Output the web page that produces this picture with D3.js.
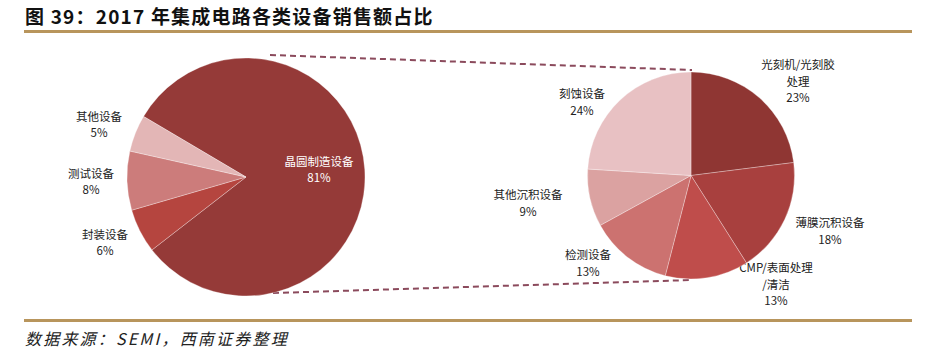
<!DOCTYPE html>
<html><head><meta charset="utf-8">
<script src="https://cdn.jsdelivr.net/npm/d3@7"></script>
<style>body{margin:0;background:#fff}svg{display:block}</style>
</head><body>
<svg id="c" width="937" height="357"></svg>
<script>
const title = "图 39：2017 年集成电路各类设备销售额占比";
const source = "数据来源：SEMI，西南证券整理";

const leftNames = ["晶圆制造设备", "封装设备", "测试设备", "其他设备"];
const leftValues = [81, 6, 8, 5];
const leftColors = ["#953a38", "#b5453f", "#cc7c7b", "#e3b6b6"];

const rightNames = [["光刻机/光刻胶", "处理"], ["薄膜沉积设备"], ["CMP/表面处理", "/清洁"], ["检测设备"], ["其他沉积设备"], ["刻蚀设备"]];
const rightValues = [23, 18, 13, 13, 9, 24];
const rightColors = ["#8f3633", "#a8403e", "#bf4d4b", "#cc7270", "#dba2a1", "#e8c1c3"];

const svg = d3.select("#c");
const font = "'Noto Sans CJK SC','Microsoft YaHei',sans-serif";

// title
svg.append("text").attr("x", 25).attr("y", 24)
  .attr("font-family", font).attr("font-weight", "bold").attr("font-size", 19)
  .attr("letter-spacing", 1.2)
  .attr("fill", "#111").text(title);
svg.append("rect").attr("x", 24).attr("y", 30).attr("width", 888).attr("height", 3).attr("fill", "#b8955c");
svg.append("rect").attr("x", 24).attr("y", 319).attr("width", 888).attr("height", 3).attr("fill", "#b8955c");
svg.append("text").attr("x", 25).attr("y", 345)
  .attr("font-family", font).attr("font-style", "italic").attr("font-size", 16)
  .attr("letter-spacing", 2.2)
  .attr("fill", "#222").text(source);

// connectors
const dash = svg.append("g").attr("stroke", "#8b4a5c").attr("stroke-width", 2).attr("stroke-dasharray", "6,4").attr("fill", "none");
dash.append("line").attr("x1", 270).attr("y1", 55).attr("x2", 692).attr("y2", 70);
dash.append("line").attr("x1", 273).attr("y1", 293).attr("x2", 692).attr("y2", 280);

const deg = Math.PI / 180;

// left pie
const lc = [246, 177], lr = 119;
const lpie = d3.pie().sort(null).startAngle(-59.4 * deg).endAngle(-59.4 * deg + 2 * Math.PI);
const larcs = lpie(leftValues);
const lg = svg.append("g").attr("transform", `translate(${lc[0]},${lc[1]})`);
const larc = d3.arc().innerRadius(0).outerRadius(lr);
lg.selectAll("path").data(larcs).join("path")
  .attr("d", larc).attr("fill", (d, i) => leftColors[i])
  .attr("stroke", "rgba(255,255,255,0.5)").attr("stroke-width", 0.6);

const leftLabelPos = [[319, 162], [105, 235], [91, 174], [99, 117]];
const lab = svg.append("g").attr("font-family", font).attr("font-size", 11.5).attr("text-anchor", "middle");
leftNames.forEach((n, i) => {
  const c = i === 0 ? "#fff" : "#222";
  lab.append("text").attr("x", leftLabelPos[i][0]).attr("y", leftLabelPos[i][1] + 4).attr("fill", c).text(n);
  lab.append("text").attr("x", leftLabelPos[i][0]).attr("y", leftLabelPos[i][1] + 20).attr("fill", c).text(leftValues[i] + "%");
});

// right pie
const rc = [691, 175.5], rr = 103.5;
const rpie = d3.pie().sort(null);
const rarcs = rpie(rightValues);
const rg = svg.append("g").attr("transform", `translate(${rc[0]},${rc[1]})`);
const rarc = d3.arc().innerRadius(0).outerRadius(rr);
rg.selectAll("path").data(rarcs).join("path")
  .attr("d", rarc).attr("fill", (d, i) => rightColors[i])
  .attr("stroke", "rgba(255,255,255,0.5)").attr("stroke-width", 0.6);

const rightLabelPos = [[798, 65], [830, 223], [776, 268], [588, 255], [528, 195], [582, 94]];
rightNames.forEach((lines, i) => {
  const [x, y] = rightLabelPos[i];
  lines.forEach((t, k) => {
    lab.append("text").attr("x", x).attr("y", y + 4 + k * 17).attr("fill", "#222").text(t);
  });
  lab.append("text").attr("x", x).attr("y", y + 4 + lines.length * 16.5).attr("fill", "#222").text(rightValues[i] + "%");
});
</script>
</body></html>
